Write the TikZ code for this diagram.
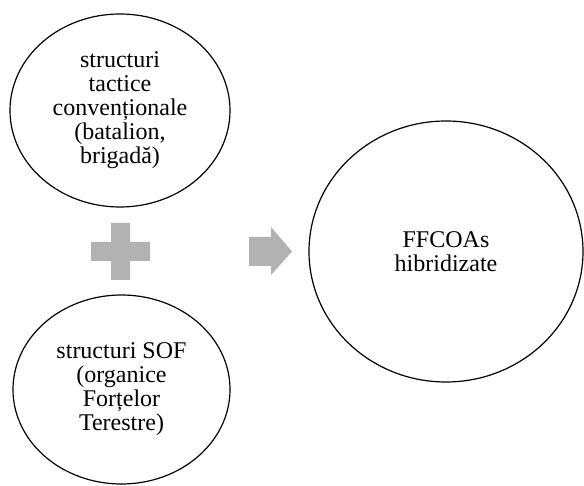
\documentclass[tikz,border=0pt]{standalone}
\usepackage{fontspec}
\setmainfont{Liberation Serif}
\usetikzlibrary{shapes.geometric}
\definecolor{shapegray}{RGB}{178,178,178}
\tikzset{
  bubble/.style={ellipse, draw=black, line width=1.2pt, inner sep=0pt, align=center,
    font=\fontsize{24}{24}\selectfont},
  graysym/.style={fill=shapegray, draw=none}
}
\begin{document}
\begin{tikzpicture}[x=1pt,y=-1pt]
\useasboundingbox (0,0) rectangle (584,486);
\node[bubble, minimum width=220pt, minimum height=193pt] (tactice) at (120,110.5)
  {structuri\\tactice\\convenționale\\(batalion,\\brigadă)};
\node[bubble, minimum width=217pt, minimum height=189pt] (sof) at (121.5,389.5)
  {structuri SOF\\(organice\\Forțelor\\Terestre)};
\node[bubble, minimum width=274pt, minimum height=261pt] (ffcoa) at (446,251.5)
  {FFCOAs\\hibridizate};
% plus sign
\fill[graysym] (111,223) -- (130,223) -- (130,242) -- (150,242) -- (150,261) -- (130,261)
  -- (130,280) -- (111,280) -- (111,261) -- (91,261) -- (91,242) -- (111,242) -- cycle;
% arrow
\fill[graysym] (249,237) -- (271,237) -- (271,227) -- (292,251.5) -- (271,275) -- (271,266)
  -- (249,266) -- cycle;
\end{tikzpicture}
\end{document}
